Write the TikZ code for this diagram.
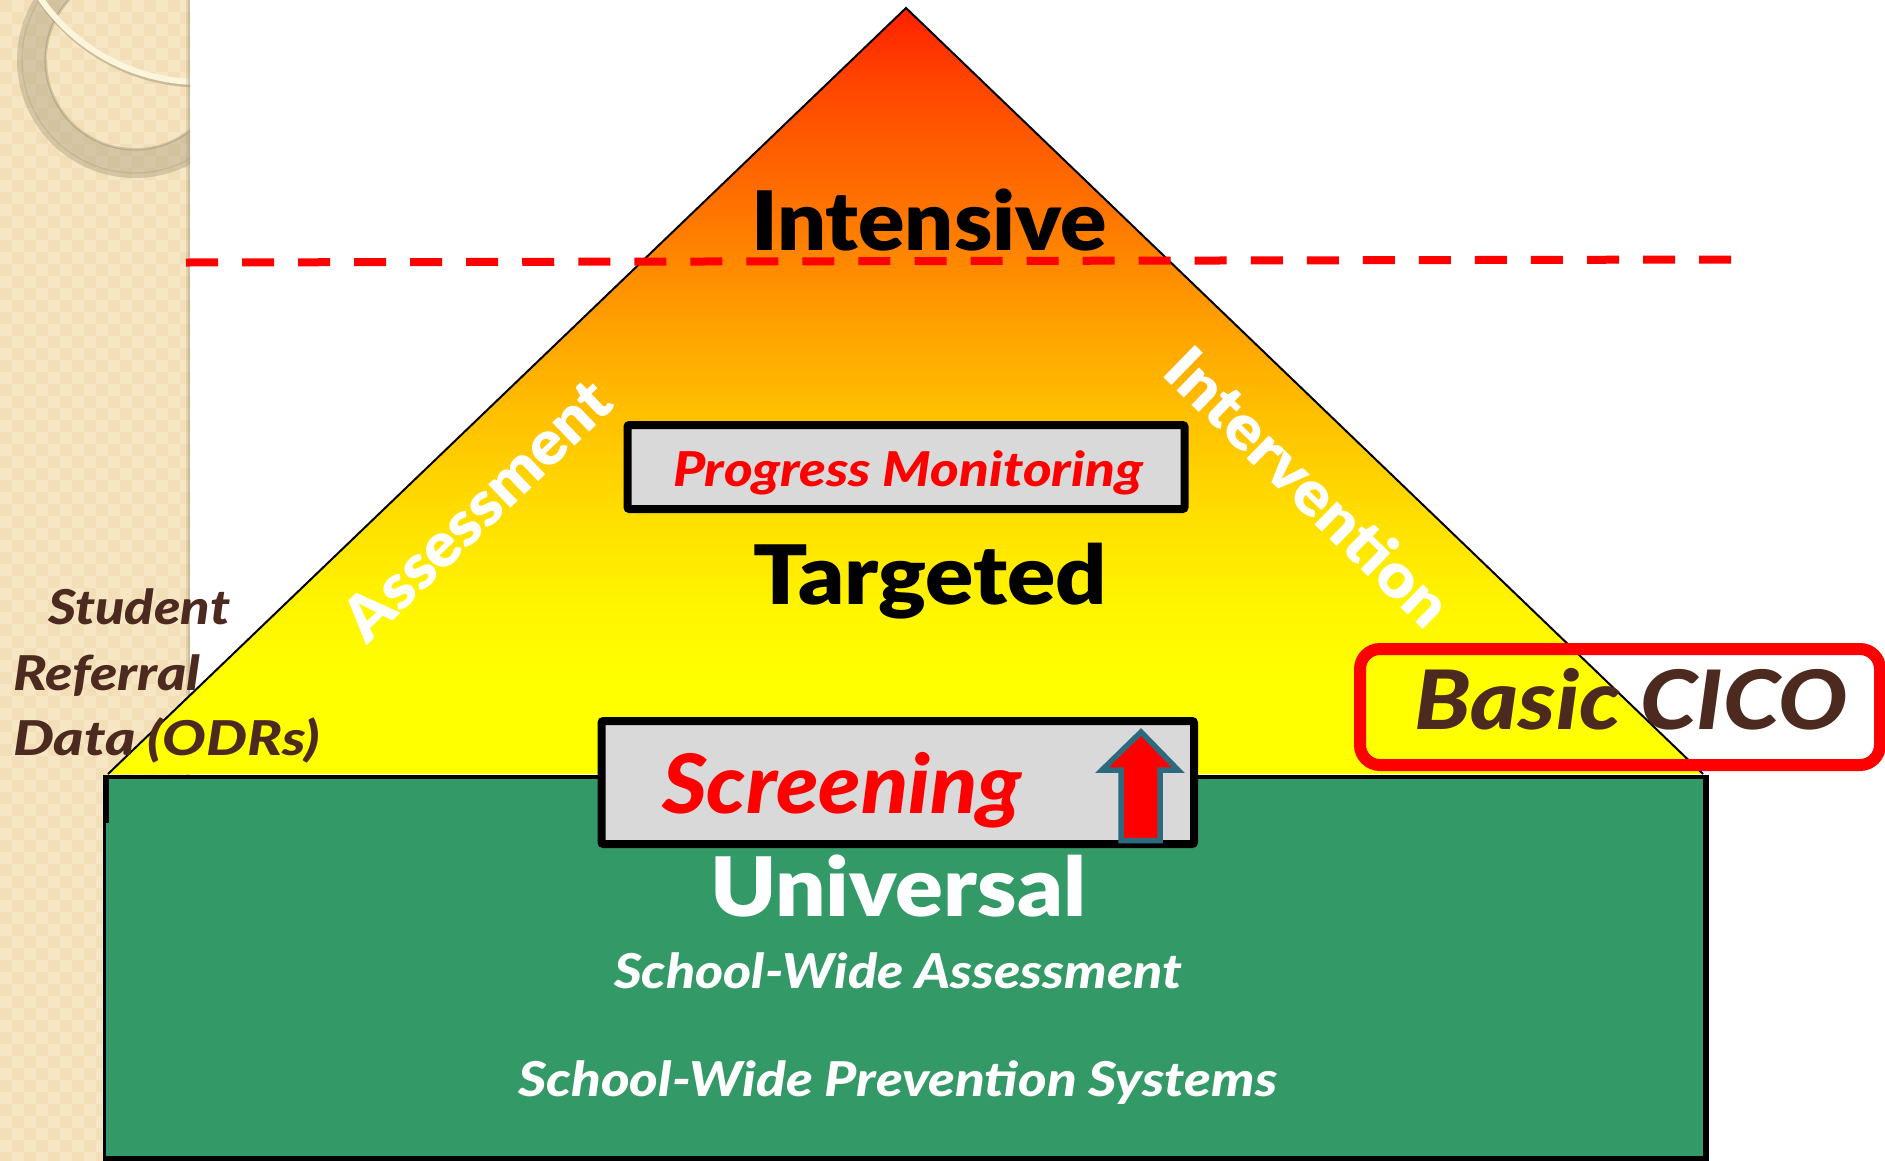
\documentclass[tikz,border=0pt]{standalone}
\usepackage{graphicx}
\usepackage{fontspec}
\setmainfont{Lato}[BoldFont={Lato Black},BoldItalicFont={Lato Black Italic}]
\definecolor{beigeA}{HTML}{F7E6C4}
\definecolor{beigeB}{HTML}{F2DFB7}
\definecolor{ringc}{HTML}{A89C7C}
\definecolor{creamarc}{HTML}{FBF5DC}
\definecolor{brownt}{HTML}{4D2A1F}
\definecolor{greenb}{HTML}{339966}
\definecolor{greyb}{HTML}{D9D9D9}
\definecolor{arrowline}{HTML}{2E6A7E}
\definecolor{gradZ}{HTML}{FFF500}
\definecolor{gradA}{HTML}{FFE000}
\definecolor{gradB}{HTML}{FFC000}
\definecolor{gradC}{HTML}{FFA000}
\definecolor{gradD}{HTML}{FF8000}
\definecolor{gradE}{HTML}{FF4400}
\definecolor{gradF}{HTML}{FF2000}
\pgfdeclareverticalshading{tri}{100bp}{
 color(0bp)=(yellow);
 color(25bp)=(yellow);
 color(31bp)=(yellow);
 color(36bp)=(gradZ);
 color(41.5bp)=(gradA);
 color(48.5bp)=(gradB);
 color(54.5bp)=(gradC);
 color(59.8bp)=(gradD);
 color(70.3bp)=(gradE);
 color(75bp)=(gradF);
 color(100bp)=(gradF)}
\newcommand{\fitw}[2]{\resizebox{#1}{\height}{#2}}
\tikzset{
 x=1pt,y=-1pt,
 lbl/.style={inner sep=0pt,outer sep=0pt,anchor=base west,font=\bfseries\fontsize{82}{82}\selectfont},
 subl/.style={inner sep=0pt,outer sep=0pt,anchor=base west,font=\bfseries\itshape\fontsize{48}{48}\selectfont},
 bigi/.style={inner sep=0pt,outer sep=0pt,anchor=base west,font=\bfseries\itshape\fontsize{82}{82}\selectfont},
 sidel/.style={inner sep=0pt,outer sep=0pt,anchor=base,font=\bfseries\fontsize{62}{62}\selectfont,text=white},
 blackbox/.style={draw=black,line width=8pt,fill=greyb,rounded corners=2pt,inner sep=0pt,outer sep=0pt}
}
\begin{document}
\begin{tikzpicture}
\useasboundingbox (0,0) rectangle (1885,1160);
% side panel
\fill[beigeA] (0,0) rectangle (190,1170);
\begin{scope}
\clip (0,0) rectangle (190,1170);
\foreach \i in {0,...,15}{\foreach \j in {0,...,97}{
  \pgfmathtruncatemacro{\k}{mod(\i+\j,2)}
  \ifnum\k=0 \fill[beigeB] (\i*12,\j*12) rectangle ++(12,12);\fi
}}
\fill[ringc,opacity=.42,even odd rule] (135,60) circle[radius=118pt] (135,60) circle[radius=88pt];
\draw[ringc,opacity=.35,line width=1.2pt] (135,60) circle[radius=113pt];
\draw[ringc,opacity=.6,line width=1.2pt] (135,60) circle[radius=90pt];
\draw[ringc,opacity=.55,line width=4pt] (200,-108.5) circle[radius=194pt];
\draw[creamarc,line width=6pt] (200,-112) circle[radius=194pt];
\fill[ringc,opacity=.25] (186,0) rectangle (190,1170);
\fill[ringc,opacity=.35] (188,0) rectangle (190,1170);
\end{scope}
% pyramid
\coordinate (apex) at (906,8);
\coordinate (triL) at (108,774);
\coordinate (triR) at (1703,774);
\shade[shading=tri] (apex) -- (triR) -- (triL) -- cycle;
\draw[black,line width=2pt,line join=miter] (triL) -- (apex) -- (triR);
% green base
\fill[greenb] (106,775) rectangle (1705,1158);
\fill[black] (103,775) rectangle (1709,779);
\fill[black] (103,775) rectangle (109,823);
\fill[black] (103,823) rectangle (106,1165);
\fill[black] (1703,775) rectangle (1709,1165);
\fill[black] (103,1156) rectangle (1709,1165);
% dashed line
\coordinate (dashL) at (186,262.5);
\coordinate (dashR) at (1731,259.5);
\draw[red,line width=8pt,dash pattern=on 32pt off 24.04pt] (dashL) -- (dashR);
% boxes
\node[blackbox,minimum width=557pt,minimum height=84pt] (pmbox) at (906,467) {};
\node[blackbox,minimum width=592.5pt,minimum height=123pt] (scrbox) at (897.75,782.5) {};
% arrow
\draw[arrowline,fill=red,line width=5.5pt,miter limit=10] (1141,732) -- (1178,770) -- (1160,770) -- (1160,840.5) -- (1121,840.5) -- (1121,770) -- (1102,770) -- cycle;
% texts
\node[lbl] (intensive) at (751,250) {\fitw{356pt}{Intensive}};
\node[lbl] (targeted) at (753,604) {\fitw{354pt}{Targeted}};
\node[lbl,text=white] (universal) at (710,916) {\fitw{376pt}{Universal}};
\node[subl,text=red] (pm) at (673,486) {\fitw{470pt}{Progress Monitoring}};
\node[bigi,text=red] (screening) at (662,813) {\fitw{360pt}{Screening}};
\node[subl,text=white] (swa) at (614,988) {\fitw{568pt}{School-Wide Assessment}};
\node[subl,text=white] (swp) at (518,1096) {\fitw{759pt}{School-Wide Prevention Systems}};
\node[sidel,rotate=43.8] (assess) at (492,526) {\fitw{345pt}{Assessment}};
\node[sidel,rotate=-44.2] (interv) at (1293,503) {\fitw{370pt}{Intervention}};
\node[subl,text=brownt] (stud) at (48,624) {\fitw{182pt}{Student}};
\node[subl,text=brownt] (refer) at (13,690) {\fitw{187pt}{Referral}};
\node[subl,text=brownt] (data) at (13,755) {\fitw{307pt}{Data (ODRs)}};
% CICO
\node[draw=red,line width=12pt,rounded corners=20pt,minimum width=520pt,minimum height=116pt,inner sep=0pt,outer sep=0pt,fill=none] (cicobox) at (1620,707) {};
\node[bigi,text=brownt] (basic) at (1414,729) {\fitw{434pt}{Basic CICO}};
\end{tikzpicture}
\end{document}
